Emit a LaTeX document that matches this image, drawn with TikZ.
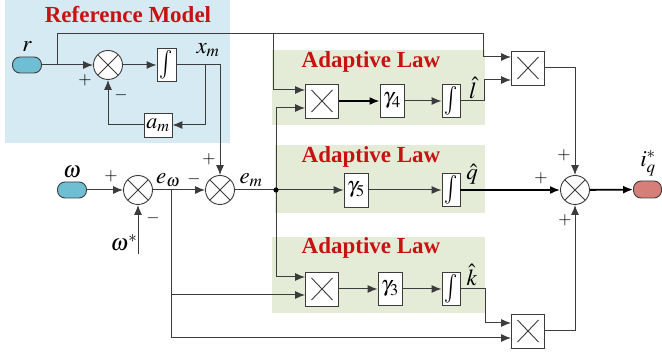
\documentclass[tikz,border=0pt]{standalone}
\usepackage{graphicx}
\usepackage{mathptmx}
\usepackage[no-math]{fontspec}
\setmainfont{Liberation Serif}
\usetikzlibrary{arrows.meta}
\definecolor{blueBG}{RGB}{214,234,244}
\definecolor{greenBG}{RGB}{228,236,216}
\definecolor{titleRed}{RGB}{200,18,18}
\definecolor{lineGray}{RGB}{60,60,60}
\definecolor{pillBlue}{RGB}{110,190,212}
\definecolor{pillRed}{RGB}{214,126,120}
\tikzset{
  wire/.style={draw=lineGray, line width=1pt},
  thickwire/.style={draw=black, line width=1.8pt},
  arr/.style={-{Latex[length=10pt,width=8pt]}},
  box/.style={draw=lineGray, fill=white, line width=0.9pt, inner sep=0pt, font=\fontsize{22}{24}\selectfont},
  multbox/.style={box, minimum width=33pt, minimum height=34pt,
    path picture={\draw[lineGray,line width=0.9pt]
      ([shift={(6pt,6pt)}]path picture bounding box.south west) -- ([shift={(-6pt,-6pt)}]path picture bounding box.north east)
      ([shift={(6pt,-6pt)}]path picture bounding box.north west) -- ([shift={(-6pt,6pt)}]path picture bounding box.south east);}},
  sumc/.style={circle, draw=lineGray, fill=white, line width=0.9pt, minimum size=29pt, inner sep=0pt,
    path picture={\draw[lineGray,line width=0.8pt]
      ([shift={(45:15pt)}]path picture bounding box.center) -- ([shift={(225:15pt)}]path picture bounding box.center)
      ([shift={(135:15pt)}]path picture bounding box.center) -- ([shift={(315:15pt)}]path picture bounding box.center);}},
  pill/.style={rectangle, rounded corners=7.5pt, draw=lineGray, line width=0.9pt, minimum width=29pt, minimum height=16pt, inner sep=0pt},
  lbl/.style={inner sep=0pt, font=\fontsize{23}{25}\selectfont},
  sgn/.style={inner sep=0pt, font=\fontsize{17}{19}\selectfont},
  ttl/.style={inner sep=0pt, text=titleRed, font=\fontsize{23}{26}\selectfont\bfseries},
  bgbox/.style={draw=none, inner sep=0pt},
}
\newcommand{\intg}{\scalebox{1}[1.3]{$\int$}}
\begin{document}
\begin{tikzpicture}[x=1pt,y=-1pt]
\useasboundingbox (0,0) rectangle (662,352);
% backgrounds
\node[bgbox, fill=blueBG, minimum width=225pt, minimum height=143pt] (refbg) at (117.5,71.5) {};
\node[bgbox, fill=greenBG, minimum width=213pt, minimum height=75pt] (gbg1) at (378.5,87.5) {};
\node[bgbox, fill=greenBG, minimum width=210pt, minimum height=68pt] (gbg2) at (380,179) {};
\node[bgbox, fill=greenBG, minimum width=213pt, minimum height=76pt] (gbg3) at (378.5,275) {};
\node[ttl] (t0) at (128,15) {Reference Model};
\node[ttl] (t1) at (371,62) {Adaptive Law};
\node[ttl] (t2) at (371,157) {Adaptive Law};
\node[ttl] (t3) at (371,248) {Adaptive Law};
% blocks
\node[pill, fill=pillBlue] (r) at (27,65) {};
\node[sumc] (s1) at (108,65) {};
\node[box, minimum width=19pt, minimum height=33pt] (int1) at (166.5,65) {\intg};
\node[box, minimum width=28pt, minimum height=24pt] (am) at (158,125) {$a_m$};
\node[pill, fill=pillBlue] (w) at (72,190) {};
\node[sumc] (s2) at (138,190) {};
\node[sumc] (s3) at (220,190) {};
\node[multbox] (m1) at (322,101) {};
\node[box, minimum width=24pt, minimum height=33pt] (g4) at (392,101) {$\gamma_4$};
\node[box, minimum width=18pt, minimum height=33pt] (i4) at (451,101) {\intg};
\node[box, minimum width=24pt, minimum height=34pt] (g5) at (356,190) {$\gamma_5$};
\node[box, minimum width=18pt, minimum height=33pt] (i5) at (451,190) {\intg};
\node[multbox] (m3) at (322,289) {};
\node[box, minimum width=24pt, minimum height=33pt] (g3) at (390,289) {$\gamma_3$};
\node[box, minimum width=18pt, minimum height=33pt] (i3) at (451,289) {\intg};
\node[multbox] (mR1) at (528,68) {};
\node[multbox] (mR2) at (528,331) {};
\node[sumc] (s4) at (575,190) {};
\node[pill, fill=pillRed, minimum width=28pt, minimum height=17pt] (iq) at (647.5,189.5) {};
% coordinates
\coordinate (rb) at (57,65);
\coordinate (tr) at (483,34);
\coordinate (tl) at (273,34);
\coordinate (fb) at (205,65);
\coordinate (ws) at (138,254);
\coordinate (jn) at (276,190);
\coordinate (eb) at (171,190);
\coordinate (lr) at (484,101);
\coordinate (kr) at (485,289);
% connectors
\draw[wire,arr] (r) -- (s1);
\draw[wire,arr] (rb) |- (tr) |- ([yshift=11pt]mR1.west);
\draw[wire,arr] (tl) |- ([yshift=11pt]m1.west);
\draw[wire,arr] (s1) -- (int1);
\draw[wire,arr] (int1.east) -| (s3.north);
\draw[wire,arr] (fb) |- (am.east);
\draw[wire,arr] (am.west) -| (s1.south);
\draw[wire,arr] (w) -- (s2);
\draw[wire,arr] (ws) -- (s2.south);
\draw[wire,arr] (s2) -- (s3);
\draw[wire] (s3.east) -- (jn);
\draw[wire,arr] (jn) -- (g5.west);
\draw[wire,arr] (jn) |- ([yshift=-7pt]m1.west);
\draw[wire,arr] (jn) |- ([yshift=12pt]m3.west);
\fill[black] (jn) circle (2.6pt);
\draw[wire,arr] (eb) |- ([yshift=-6pt]m3.west);
\draw[wire,arr] (eb) |- ([yshift=-7pt]mR2.west);
\draw[thickwire,arr] (m1) -- (g4);
\draw[wire,arr] (g4) -- (i4);
\draw[wire,arr] (i4.east) -- (lr) |- ([yshift=-12pt]mR1.west);
\draw[wire,arr] (g5) -- (i5);
\draw[thickwire,arr] (i5) -- (s4);
\draw[wire,arr] (m3) -- (g3);
\draw[wire,arr] (g3) -- (i3);
\draw[wire,arr] (i3.east) -- (kr) |- ([yshift=8pt]mR2.west);
\draw[wire,arr] (mR1.east) -| (s4.north);
\draw[wire,arr] (mR2.east) -| (s4.south);
\draw[thickwire,arr] (s4) -- (iq);
% labels
\node[lbl] (lr0) at (27,47) {$r$};
\node[sgn] (p1) at (85,80) {$+$};
\node[sgn] (n1) at (121,95) {$-$};
\node[lbl] (lxm) at (208,50) {$x_m$};
\node[lbl] (lw) at (72,172) {$\omega$};
\node[sgn] (p2) at (111,176) {$+$};
\node[sgn] (n2) at (153,218) {$-$};
\node[lbl] (lws) at (124,243) {$\omega^{*}$};
\node[lbl] (lew) at (168,180) {$e_\omega$};
\node[sgn] (n3) at (194,179) {$-$};
\node[sgn] (p3) at (209,159) {$+$};
\node[lbl] (lem) at (251,180) {$e_m$};
\node[lbl] (ll) at (473,88) {$\hat{l}$};
\node[lbl] (lq) at (472,174) {$\hat{q}$};
\node[lbl] (lk) at (472,275) {$\hat{k}$};
\node[sgn] (p4) at (564,155) {$+$};
\node[sgn] (p5) at (541,178) {$+$};
\node[sgn] (p6) at (565,220) {$+$};
\node[lbl] (liq) at (648,163) {$i_q^{*}$};
\end{tikzpicture}
\end{document}
